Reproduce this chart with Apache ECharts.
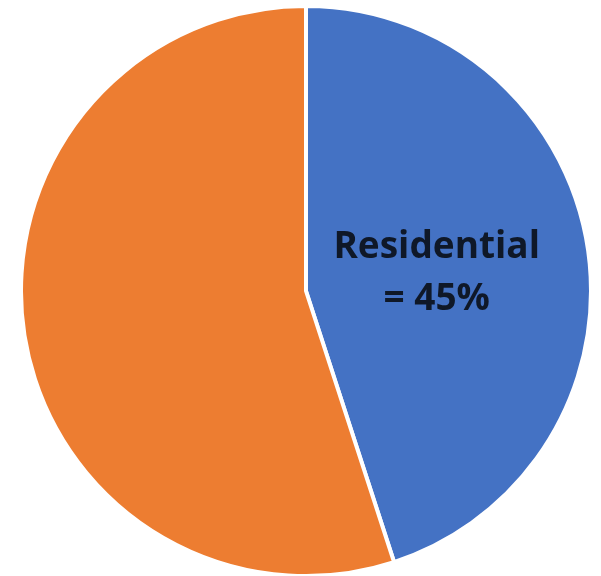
<!DOCTYPE html>
<html><head><meta charset="utf-8">
<script src="https://cdn.jsdelivr.net/npm/echarts@6/dist/echarts.min.js"></script>
<style>html,body{margin:0;padding:0;background:#fff}#c{width:601px;height:576px}</style>
</head><body><div id="c"></div>
<script>
var categories = ['Residential', 'Other'];
var values = [45, 55];
var colors = ['#4472C4', '#ED7D31'];
var chart = echarts.init(document.getElementById('c'));
chart.setOption({
  animation: false,
  series: [{
    type: 'pie',
    center: [306, 291],
    radius: [0, 285],
    startAngle: 90,
    clockwise: true,
    itemStyle: { borderColor: '#fff', borderWidth: 4 },
    labelLine: { show: false },
    data: categories.map(function (c, i) {
      return {
        name: c, value: values[i],
        itemStyle: { color: colors[i] },
        label: i === 0 ? {
          show: true, position: 'inside',
          formatter: function (p) { return p.name + '\n= ' + p.value + '%'; },
          fontFamily: 'Open Sans', fontWeight: 'bold', fontSize: 37,
          lineHeight: 52, color: '#0f1828', offset: [-13, 5]
        } : { show: false }
      };
    })
  }]
});
</script></body></html>
